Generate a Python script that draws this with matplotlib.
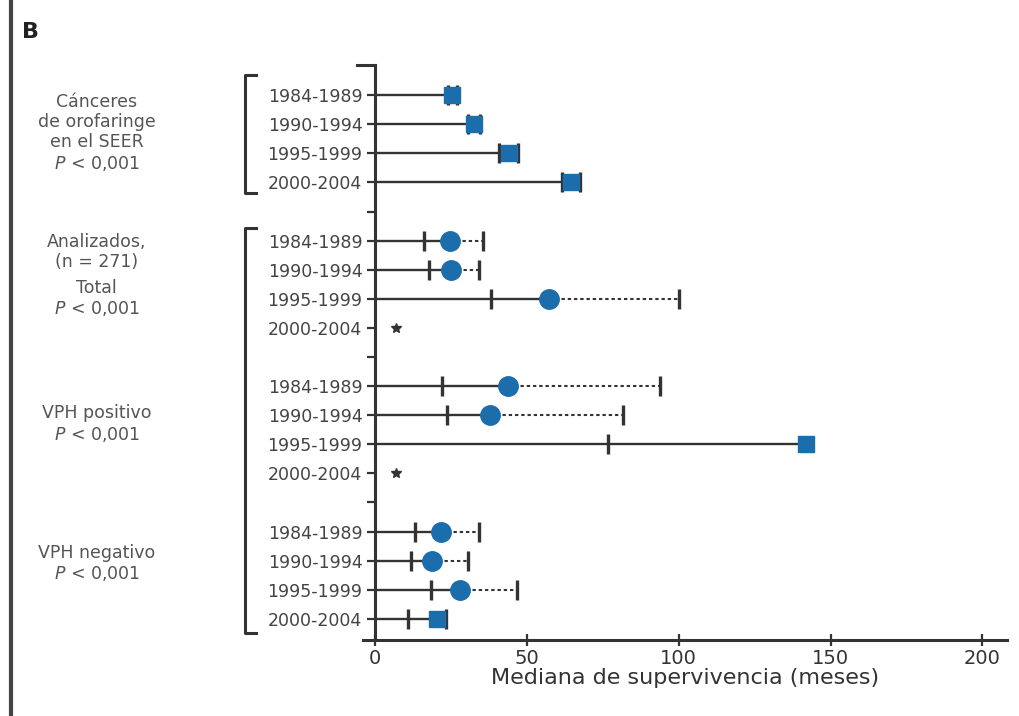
import numpy as np
import matplotlib.pyplot as plt
from matplotlib.lines import Line2D
from matplotlib.transforms import blended_transform_factory

years = ['1984-1989', '1990-1994', '1995-1999', '2000-2004']

# median survival (months) and CI bounds per period, nan = not estimable
seer_median = [25.5, 32.5, 44.0, 64.5]
seer_lower = [24.0, 30.5, 41.0, 61.5]
seer_upper = [27.0, 34.5, 47.0, 67.5]

total_median = [24.7, 25.0, 57.2, np.nan]
total_lower = [16.0, 17.8, 38.2, np.nan]
total_upper = [35.5, 34.2, 100.0, np.nan]

pos_median = [43.7, 38.0, 142.0, np.nan]
pos_lower = [22.0, 23.7, 76.6, np.nan]
pos_upper = [94.0, 81.6, np.nan, np.nan]

neg_median = [21.6, 18.9, 27.9, 20.5]
neg_lower = [13.3, 11.9, 18.4, 10.8]
neg_upper = [34.1, 30.6, 46.8, 23.3]

# marker shape per group/period ('s' where the CI collapses onto the point)
seer_shape = ['s', 's', 's', 's']
total_shape = ['o', 'o', 'o', 'o']
pos_shape = ['o', 'o', 's', 'o']
neg_shape = ['o', 'o', 'o', 's']

not_reached_x = 7.0  # position of the "*" for non-estimable medians

group_labels = ['Cánceres\nde orofaringe\nen el SEER\n$\\it{P}$ < 0,001',
                'Analizados,\n(n = 271)',
                'Total\n$\\it{P}$ < 0,001',
                'VPH positivo\n$\\it{P}$ < 0,001',
                'VPH negativo\n$\\it{P}$ < 0,001']
group_label_y = [1.3, 5.4, 7.0, 11.3, 16.1]

x_ticks = [0, 50, 100, 150, 200]

BLUE = '#1c6dab'
DARK = '#333333'
GREY = '#555555'

groups = [
    (seer_median, seer_lower, seer_upper, seer_shape),
    (total_median, total_lower, total_upper, total_shape),
    (pos_median, pos_lower, pos_upper, pos_shape),
    (neg_median, neg_lower, neg_upper, neg_shape),
]

fig = plt.figure(figsize=(10.19, 7.16), dpi=100)
ax = fig.add_axes([0.356, 0.106, 0.632, 0.803])

rows = []
for g, (med, lo, up, shp) in enumerate(groups):
    for k in range(4):
        y = g * 5 + k
        rows.append(y)
        m = med[k]
        if np.isnan(m):
            ax.plot(not_reached_x, y, marker='*', ms=7, color=DARK, ls='none')
            continue
        ax.plot([0, m], [y, y], color=DARK, lw=1.7, solid_capstyle='butt')
        if not np.isnan(up[k]):
            ax.plot([m, up[k]], [y, y], color=DARK, lw=1.5, ls=(0, (1.6, 1.4)))
            ax.plot(up[k], y, marker='|', ms=14, mew=2.4, color=DARK)
        if not np.isnan(lo[k]):
            ax.plot(lo[k], y, marker='|', ms=14, mew=2.4, color=DARK)
        ax.plot(m, y, marker=shp[k], ms=14 if shp[k] == 'o' else 12,
                color=BLUE, mec=BLUE, ls='none', zorder=5)

ax.set_xlim(-4, 208)
ax.set_ylim(18.73, -1.03)

all_rows = list(range(19))
labels = []
for r in all_rows:
    labels.append(years[r % 5] if r % 5 < 4 else '')
ax.set_yticks(all_rows)
ax.set_yticklabels(labels)
ax.set_xticks(x_ticks)

for s in ['top', 'right']:
    ax.spines[s].set_visible(False)
ax.spines['left'].set_position(('data', 0))
ax.spines['left'].set_linewidth(2.2)
ax.spines['bottom'].set_linewidth(2.2)
ax.spines['left'].set_color(DARK)
ax.spines['bottom'].set_color(DARK)

ax.tick_params(axis='y', direction='out', length=6, width=1.6, color=DARK,
               labelsize=12.5, labelcolor='#444444', pad=3)
ax.tick_params(axis='x', direction='inout', length=9, width=1.6, color=DARK,
               labelsize=14, labelcolor='#333333', pad=2)
ax.set_xlabel('Mediana de supervivencia (meses)', fontsize=16, color=DARK, labelpad=0)

# cap at the top of the y axis
ax.plot([-6, 0], [-1.03, -1.03], color=DARK, lw=2.2, clip_on=False)

# brackets round the period labels and group captions
tr = blended_transform_factory(fig.transFigure, ax.transData)
for y0, y1 in [(-0.68, 3.38), (4.58, 18.48)]:
    ax.add_line(Line2D([0.251, 0.2405, 0.2405, 0.251], [y0, y0, y1, y1],
                       transform=tr, color=DARK, lw=2.2, clip_on=False))

for txt, yy in zip(group_labels, group_label_y):
    ax.text(0.095, yy, txt, transform=tr, ha='center', va='center',
            fontsize=12.5, color=GREY, linespacing=1.15)

fig.text(0.022, 0.955, 'B', fontsize=16, fontweight='bold', color='#222222',
         ha='left', va='center')
fig.add_artist(Line2D([0.011, 0.011], [0, 1], transform=fig.transFigure,
                      color='#444444', lw=3))

fig.savefig('out.png', dpi=100)
